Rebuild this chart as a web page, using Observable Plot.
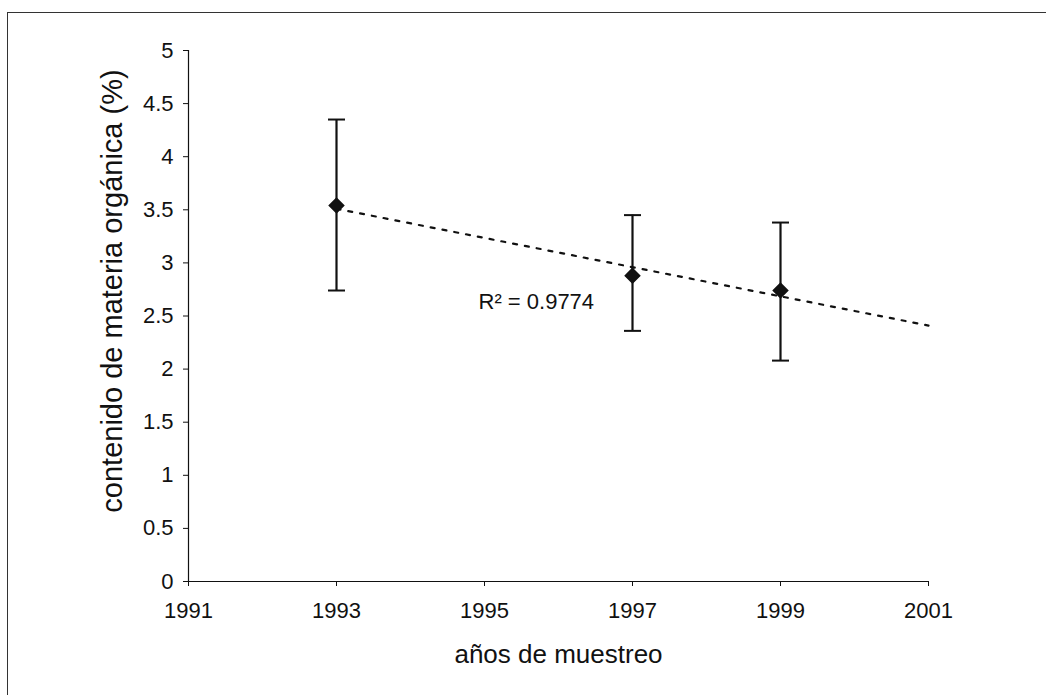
<!DOCTYPE html>
<html>
<head>
<meta charset="utf-8">
<script src="https://cdn.jsdelivr.net/npm/d3@7"></script>
<script src="https://cdn.jsdelivr.net/npm/@observablehq/plot@0.6"></script>
<style>
  html, body { margin: 0; padding: 0; background: #fff; overflow: hidden; }
  #wrap { position: relative; width: 1046px; height: 695px; }
  #border { position: absolute; left: 7px; top: 12px; width: 1100px; height: 800px;
            border-left: 1.5px solid #333; border-top: 1.5px solid #333; }
  #chart { position: absolute; left: 0; top: 0; }
</style>
</head>
<body>
<div id="wrap"><div id="border"></div><div id="chart"></div></div>
<script>
// Data
const years = [1993, 1997, 1999];
const means = [3.54, 2.88, 2.74];
const upper = [4.35, 3.45, 3.38];
const lower = [2.74, 2.36, 2.08];

// Linear trend line (Excel-style, extended forward to 2001)
const trendYears = [1993, 2001];
const trendValues = [3.51, 2.41];

const xTicks = [1991, 1993, 1995, 1997, 1999, 2001];
const yTicks = [0, 0.5, 1, 1.5, 2, 2.5, 3, 3.5, 4, 4.5, 5];

const annotations = [{x: 1995.7, y: 2.63, text: "R² = 0.9774"}];

const xLabel = "años de muestreo";
const yLabel = "contenido de materia orgánica (%)";

const points = years.map((y, i) => ({year: y, mean: means[i], hi: upper[i], lo: lower[i]}));
const trend = trendYears.map((y, i) => ({year: y, value: trendValues[i]}));

const capSymbol = {
  draw(context, size) {
    const r = Math.sqrt(size / Math.PI);
    context.moveTo(-r, 0);
    context.lineTo(r, 0);
  }
};

const ink = "#111";
const font = "'Liberation Sans', Arial, sans-serif";

const chart = Plot.plot({
  width: 1046,
  height: 695,
  marginLeft: 188,
  marginRight: 118,
  marginTop: 50,
  marginBottom: 114,
  style: {fontFamily: font, color: ink, background: "transparent", overflow: "visible"},
  x: {domain: [1991, 2001]},
  y: {domain: [0, 5]},
  marks: [
    Plot.axisX({ticks: xTicks, tickFormat: d => String(d), tickSize: 5, tickPadding: 16,
                fontSize: 22, label: null, stroke: ink, fill: ink}),
    Plot.axisY({ticks: yTicks, tickFormat: d => String(d), tickSize: 5, tickPadding: 10,
                fontSize: 22, label: null, stroke: ink, fill: ink}),
    Plot.ruleX([1991], {stroke: ink, strokeWidth: 1.2}),
    Plot.ruleY([0], {stroke: ink, strokeWidth: 1.2}),
    Plot.line(trend, {x: "year", y: "value", stroke: ink, strokeWidth: 2.2, strokeDasharray: "4,8"}),
    Plot.ruleX(points, {x: "year", y1: "lo", y2: "hi", stroke: ink, strokeWidth: 2.2}),
    Plot.dot(points, {x: "year", y: "hi", symbol: capSymbol, r: 8.5, stroke: ink, strokeWidth: 2}),
    Plot.dot(points, {x: "year", y: "lo", symbol: capSymbol, r: 8.5, stroke: ink, strokeWidth: 2}),
    Plot.dot(points, {x: "year", y: "mean", symbol: "diamond2", r: 6.5, fill: ink, stroke: ink}),
    Plot.text(annotations, {x: "x", y: "y", text: "text", fontSize: 22, fill: ink}),
    Plot.text([xLabel], {frameAnchor: "bottom", dy: 81, fontSize: 26, fill: ink}),
    Plot.text([yLabel], {frameAnchor: "left", textAnchor: "middle", dx: -76, dy: -25, rotate: -90, fontSize: 29, fill: ink})
  ]
});
document.getElementById("chart").appendChild(chart);
</script>
</body>
</html>
